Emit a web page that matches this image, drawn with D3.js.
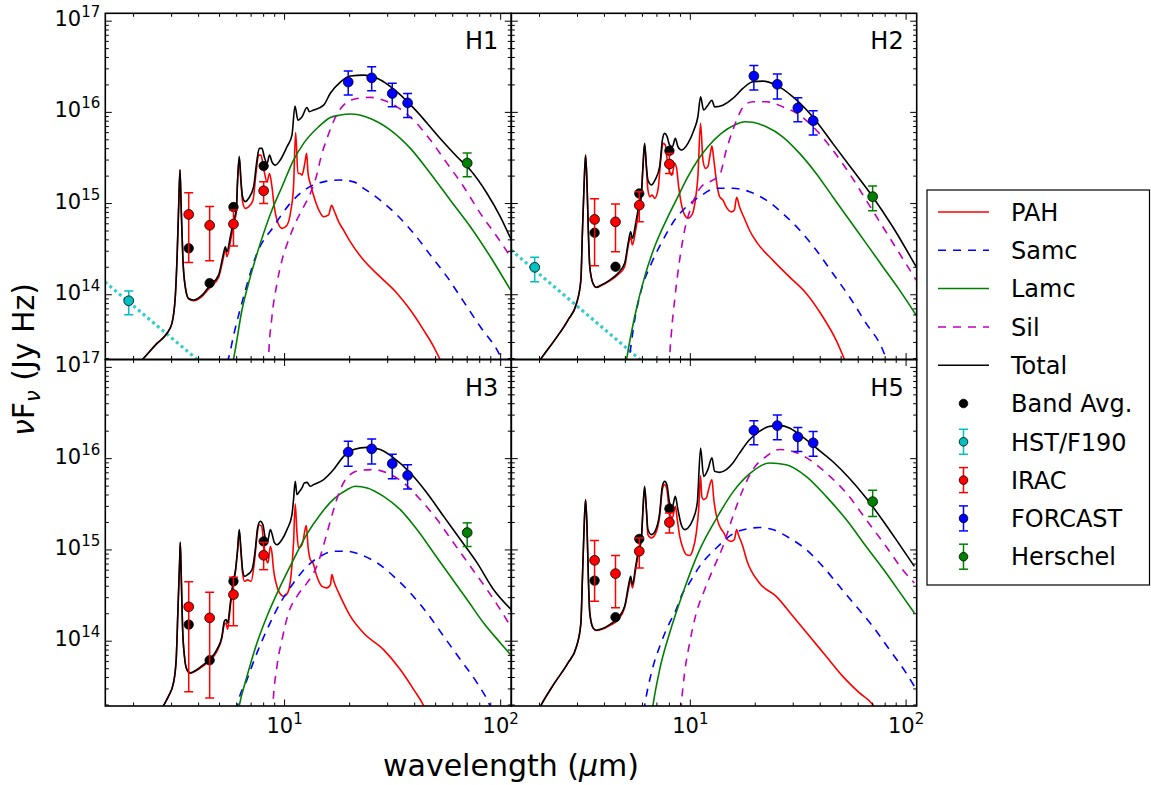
<!DOCTYPE html>
<html>
<head>
<meta charset="utf-8">
<script src="https://cdn.jsdelivr.net/npm/d3@7"></script>
<style>
  body { margin: 0; background: #fff; }
  text { font-family: "DejaVu Sans", sans-serif; fill: #000; }
</style>
</head>
<body>
<svg id="fig" width="1151" height="785"></svg>
<script>
// ---------------------------------------------------------------------------
// SED fits for four regions (H1, H2, H3, H5).  Wavelength in micron, nuFnu in Jy Hz.
// Error-bar points are [wavelength, value, lower end, upper end].
// ---------------------------------------------------------------------------

// ---- H1 ----
const h1Pah = [[2.10,1.74e13],[2.225,2.01e13],[2.566,2.93e13],[2.855,3.78e13],[3.01,4.85e13],[3.12,9.5e13],[3.177,2.40e14],[3.231,8.5e14],[3.28,2.35e15],[3.325,8.5e14],[3.385,2.40e14],[3.47,1.22e14],[3.595,9.0e13],[3.79,8.6e13],[4.15,9.6e13],[4.53,1.22e14],[4.95,1.55e14],[5.22,2.61e14],[5.32,3.23e14],[5.41,2.61e14],[5.61,3.81e14],[5.81,5.8e14],[5.975,8.1e14],[6.06,1.75e15],[6.17,3.15e15],[6.28,1.75e15],[6.39,1.05e15],[6.58,8.85e14],[6.81,9.2e14],[7.14,1.09e15],[7.40,2.33e15],[7.58,3.40e15],[7.77,3.40e15],[8.0,2.43e15],[8.29,1.73e15],[8.52,2.14e15],[8.74,1.53e15],[8.96,9.2e14],[9.22,6.6e14],[9.73,5.35e14],[10.26,5.8e14],[10.7,8.5e14],[11.0,1.53e15],[11.25,6.0e15],[11.53,2.14e15],[11.8,2.14e15],[12.04,2.05e15],[12.4,2.76e15],[12.65,3.55e15],[12.84,2.14e15],[13.15,1.66e15],[13.6,1.24e15],[14.4,8.5e14],[15.16,7.16e14],[15.97,7.5e14],[16.5,9.6e14],[16.9,8.5e14],[17.8,6.3e14],[18.76,5.1e14],[20.15,3.8e14],[23.2,2.40e14],[27.7,1.57e14],[33.1,1.04e14],[38.2,6.8e13],[44.0,4.1e13],[49.0,2.69e13],[52.6,1.92e13],[56.1,1.38e13]];
const h1Samc = [[5.4,1.8e13],[5.5,2.01e13],[5.81,3.6e13],[6.46,9.5e13],[7.45,2.85e14],[8.89,5.57e14],[10.6,1.0e15],[12.7,1.47e15],[15.16,1.73e15],[18.1,1.81e15],[20.9,1.73e15],[23.2,1.47e15],[27.7,1.09e15],[33.1,7.5e14],[39.6,4.71e14],[47.3,2.72e14],[56.5,1.57e14],[67.4,8.4e13],[80.5,4.46e13],[96.2,2.48e13],[102.9,1.82e13]];
const h1Lamc = [[5.75,1.8e13],[5.81,2.01e13],[6.35,6.8e13],[6.94,1.57e14],[7.72,3.66e14],[8.74,8.5e14],[9.73,1.53e15],[11.0,3.0e15],[12.25,4.57e15],[14.37,6.95e15],[16.28,8.77e15],[18.1,9.34e15],[20.15,9.58e15],[24.9,8.59e15],[30.9,6.4e15],[38.2,4.03e15],[47.3,2.14e15],[58.5,1.09e15],[72.4,5.57e14],[89.6,2.61e14],[111,1.13e14]];
const h1Sil = [[8.4,1.6e13],[8.43,2.0e13],[8.74,5.74e13],[9.22,1.33e14],[9.73,2.40e14],[10.43,3.98e14],[11.2,6.07e14],[12.25,9.2e14],[13.15,1.29e15],[13.87,1.81e15],[14.9,3.55e15],[15.72,5.2e15],[16.86,8.0e15],[17.8,1.03e16],[18.76,1.20e16],[21.6,1.42e16],[24.9,1.46e16],[28.7,1.36e16],[33.1,1.15e16],[39.6,8.2e15],[47.3,4.97e15],[56.5,2.76e15],[67.4,1.53e15],[80.5,7.8e14],[96.2,4.33e14],[111,2.61e14]];
const h1Total = [[2.10,1.74e13],[2.225,2.01e13],[2.566,2.93e13],[2.855,3.78e13],[3.01,4.85e13],[3.12,9.5e13],[3.177,2.40e14],[3.231,8.5e14],[3.28,2.35e15],[3.325,8.5e14],[3.385,2.40e14],[3.47,1.22e14],[3.595,9.1e13],[3.79,8.75e13],[4.15,9.9e13],[4.53,1.28e14],[4.95,1.64e14],[5.22,2.85e14],[5.32,3.36e14],[5.41,2.96e14],[5.61,4.33e14],[5.81,6.6e14],[5.975,8.5e14],[6.06,1.81e15],[6.17,3.3e15],[6.28,1.81e15],[6.39,1.19e15],[6.58,1.05e15],[6.81,1.14e15],[7.19,1.53e15],[7.45,3.0e15],[7.64,4.03e15],[7.86,4.03e15],[8.05,3.26e15],[8.29,2.76e15],[8.52,3.40e15],[8.74,2.87e15],[9.06,2.64e15],[9.55,3.0e15],[10.26,4.2e15],[10.82,5.64e15],[11.17,1.17e16],[11.53,8.2e15],[12.04,8.95e15],[12.7,1.13e16],[13.01,1.02e16],[13.62,1.06e16],[15.16,1.20e16],[16.28,1.62e16],[18.11,2.15e16],[20.15,2.50e16],[23.2,2.56e16],[26.8,2.36e16],[33.1,1.68e16],[41.0,1.02e16],[50.8,5.64e15],[62.8,3.26e15],[72.4,2.33e15],[86.5,1.29e15],[99.7,7.16e14],[113,3.81e14]];
const h1Star = [[1.4,1.53e14],[4.5,1.50e13]];
const h1Band = [[3.6,3.23e14],[4.5,1.34e14],[5.8,9.16e14],[8.0,2.58e15]];
const h1Hst = [[1.9,8.59e13,6.03e13,1.10e14]];
const h1Irac = [[3.6,7.6e14,2.26e14,1.31e15],[4.5,5.77e14,2.36e14,9.31e14],[5.8,5.96e14,3.42e14,8.49e14],[8.0,1.38e15,1.0e15,1.73e15]];
const h1Forcast = [[19.7,2.15e16,1.55e16,2.84e16],[25.3,2.39e16,1.73e16,3.16e16],[31.5,1.61e16,1.15e16,2.08e16],[37.1,1.27e16,8.81e15,1.61e16]];
const h1Herschel = [[70,2.78e15,1.97e15,3.58e15]];

// ---- H2 ----
const h2Pah = [[1.96,1.74e13],[2.04,2.01e13],[2.35,3.18e13],[2.71,5.28e13],[2.97,8.06e13],[3.11,1.45e14],[3.16,4.71e14],[3.22,1.66e15],[3.27,3.4e15],[3.32,1.66e15],[3.37,4.71e14],[3.42,2.03e14],[3.54,1.33e14],[3.67,1.2e14],[3.87,1.26e14],[4.23,1.42e14],[4.62,1.66e14],[4.96,2.03e14],[5.18,3.66e14],[5.29,4.33e14],[5.39,3.51e14],[5.58,5.12e14],[5.76,8.1e14],[5.93,1.19e15],[6.03,2.45e15],[6.14,4.4e15],[6.26,2.45e15],[6.36,1.41e15],[6.5,1.19e15],[6.65,1.24e15],[6.83,1.14e15],[7.08,1.41e15],[7.29,3.0e15],[7.47,4.57e15],[7.66,4.38e15],[7.83,2.87e15],[8.02,2.23e15],[8.22,2.05e15],[8.46,2.76e15],[8.64,2.43e15],[8.83,1.53e15],[9.08,1.0e15],[9.41,7.5e14],[9.75,6.9e14],[10.17,7.5e14],[10.55,1.09e15],[10.84,1.97e15],[11.15,7.6e15],[11.44,3.0e15],[11.77,2.43e15],[12.06,2.54e15],[12.38,3.55e15],[12.59,4.27e15],[12.86,3.0e15],[13.19,1.81e15],[13.67,1.19e15],[14.16,1.09e15],[14.67,9.2e14],[15.48,8.1e14],[16.0,8.5e14],[16.4,1.17e15],[16.9,9.2e14],[17.8,6.9e14],[18.8,5.1e14],[20.5,3.66e14],[24.1,2.40e14],[28.8,1.57e14],[34.4,1.04e14],[41.1,5.74e13],[47.4,3.18e13],[51.8,1.96e13],[53.6,1.62e13]];
const h2Samc = [[5.1,1.6e13],[5.18,1.9e13],[5.52,5.28e13],[5.93,1.13e14],[6.6,2.21e14],[7.47,3.98e14],[8.46,6.6e14],[9.58,9.2e14],[11.04,1.19e15],[13.2,1.47e15],[15.75,1.47e15],[18.8,1.35e15],[22.5,1.09e15],[26.8,7.8e14],[32.1,5.12e14],[38.3,3.09e14],[45.7,1.72e14],[54.6,9.5e13],[65.3,4.85e13],[78.0,2.48e13],[81.9,1.82e13]];
const h2Lamc = [[5.0,1.6e13],[5.06,1.92e13],[5.52,5.74e13],[6.14,1.57e14],[6.83,3.36e14],[7.87,7.16e14],[8.76,1.19e15],[9.75,1.97e15],[10.84,3.0e15],[12.06,4.2e15],[13.92,5.89e15],[16.04,7.26e15],[17.84,7.89e15],[19.49,7.78e15],[22.5,6.95e15],[26.8,5.4e15],[32.1,3.55e15],[38.3,2.14e15],[45.7,1.19e15],[54.6,6.6e14],[65.3,3.66e14],[78.0,2.03e14],[93.1,1.13e14],[111.3,5.99e13]];
const h2Sil = [[8.0,1.6e13],[8.02,1.92e13],[8.17,3.78e13],[8.46,8.75e13],[8.92,2.40e14],[9.41,5.12e14],[10.1,9.2e14],[11.24,1.53e15],[12.72,1.81e15],[13.67,2.05e15],[14.68,3.86e15],[15.75,6.4e15],[16.91,9.75e15],[17.84,1.20e16],[19.49,1.31e16],[22.5,1.31e16],[26.8,1.15e16],[32.1,9.34e15],[38.3,6.4e15],[45.7,3.86e15],[54.6,2.14e15],[65.3,1.09e15],[78.0,5.57e14],[93.1,2.85e14],[111.3,1.45e14]];
const h2Total = [[1.96,1.74e13],[2.04,2.01e13],[2.35,3.18e13],[2.71,5.28e13],[2.97,8.06e13],[3.11,1.45e14],[3.16,4.71e14],[3.22,1.66e15],[3.27,3.4e15],[3.32,1.66e15],[3.37,4.71e14],[3.42,2.03e14],[3.54,1.33e14],[3.67,1.21e14],[3.87,1.28e14],[4.23,1.45e14],[4.62,1.72e14],[4.96,2.21e14],[5.18,3.98e14],[5.29,4.91e14],[5.39,4.15e14],[5.58,6.07e14],[5.76,9.2e14],[5.93,1.29e15],[6.03,2.54e15],[6.14,4.57e15],[6.26,2.54e15],[6.36,1.81e15],[6.6,1.60e15],[6.86,1.81e15],[7.21,2.54e15],[7.42,4.97e15],[7.6,5.89e15],[7.79,5.5e15],[8.02,4.38e15],[8.26,4.2e15],[8.52,5.19e15],[8.76,4.2e15],[9.08,3.86e15],[9.75,4.57e15],[10.39,6.4e15],[10.84,8.95e15],[11.16,1.48e16],[11.52,1.06e16],[12.06,1.20e16],[12.59,1.36e16],[12.96,1.15e16],[14.16,1.20e16],[15.75,1.42e16],[17.52,1.83e16],[19.49,2.17e16],[21.7,2.2e16],[25.0,1.99e16],[29.9,1.48e16],[36.9,8.95e15],[45.7,4.57e15],[56.6,2.33e15],[70.0,1.19e15],[86.7,5.57e14],[111.3,2.03e14]];
const h2Star = [[1.4,3.44e14],[6.0,1.85e13]];
const h2Band = [[3.6,4.79e14],[4.5,2.03e14],[5.8,1.29e15],[8.0,3.79e15]];
const h2Hst = [[1.9,2.0e14,1.39e14,2.57e14]];
const h2Irac = [[3.6,6.7e14,2.08e14,1.13e15],[4.5,6.3e14,2.96e14,9.86e14],[5.8,9.6e14,6.31e14,1.35e15],[8.0,2.71e15,2.14e15,3.55e15]];
const h2Forcast = [[19.7,2.50e16,1.76e16,3.27e16],[25.3,2.03e16,1.40e16,2.63e16],[31.5,1.12e16,7.89e15,1.45e16],[37.1,8.1e15,5.64e15,1.04e16]];
const h2Herschel = [[70,1.19e15,8.34e14,1.56e15]];

// ---- H3 ----
const h3Pah = [[2.66,1.69e13],[2.75,1.97e13],[2.90,2.49e13],[3.06,3.49e13],[3.15,6.28e13],[3.21,2.22e14],[3.27,7.84e14],[3.29,1.21e15],[3.325,5.14e14],[3.37,1.46e14],[3.44,6.84e13],[3.53,4.89e13],[3.66,4.45e13],[3.93,4.8e13],[4.22,5.4e13],[4.53,6.2e13],[4.86,7.74e13],[5.13,1.09e14],[5.26,1.52e14],[5.36,1.58e14],[5.45,1.35e14],[5.61,2.41e14],[5.77,3.99e14],[5.93,5.84e14],[6.06,9.8e14],[6.17,1.6e15],[6.28,9.5e14],[6.39,5.6e14],[6.53,4.53e14],[6.74,4.7e14],[7.0,4.53e14],[7.24,7.21e14],[7.45,1.41e15],[7.6,1.89e15],[7.83,1.82e15],[8.0,1.19e15],[8.23,7.84e14],[8.38,7.21e14],[8.59,1.09e15],[8.74,9.27e14],[8.89,6.08e14],[9.12,4.35e14],[9.48,3.38e14],[9.9,3.1e14],[10.33,3.38e14],[10.7,5.14e14],[11.0,1.19e15],[11.2,3.2e15],[11.41,1.54e15],[11.6,1.05e15],[11.9,1.09e15],[12.17,1.24e15],[12.39,1.6e15],[12.6,1.85e15],[12.84,1.09e15],[13.15,7.84e14],[13.53,7.21e14],[14.1,5.14e14],[14.9,3.99e14],[15.7,3.84e14],[16.3,4.17e14],[16.55,5.36e14],[16.9,4.53e14],[17.8,3.38e14],[18.76,2.6e14],[20.15,1.88e14],[23.2,1.23e14],[28.7,8.09e13],[34.3,4.89e13],[39.6,2.95e13],[44.0,1.97e13],[45.6,1.64e13]];
const h3Samc = [[6.0,1.7e13],[6.06,1.97e13],[6.7,3.79e13],[7.45,7.45e13],[8.29,1.34e14],[9.55,2.62e14],[11.0,4.35e14],[12.7,6.61e14],[14.63,8.51e14],[16.86,9.66e14],[19.45,9.66e14],[22.4,8.89e14],[26.8,7.21e14],[31.96,5.14e14],[38.2,3.38e14],[45.6,2.04e14],[54.5,1.13e14],[65.1,6.28e13],[77.8,3.49e13],[88.0,2.11e13],[91.5,1.69e13]];
const h3Lamc = [[6.1,1.7e13],[6.17,1.97e13],[6.7,4.13e13],[7.45,9.57e13],[8.29,1.88e14],[9.55,3.99e14],[11.0,7.84e14],[12.7,1.5e15],[14.63,2.45e15],[16.86,3.6e15],[19.45,4.57e15],[21.25,4.98e15],[24.1,4.78e15],[28.7,3.86e15],[34.3,2.76e15],[41.0,1.67e15],[49.0,9.27e14],[58.5,5.14e14],[69.9,2.86e14],[83.4,1.58e14],[99.7,9.57e13],[111,7.13e13]];
const h3Sil = [[8.79,1.6e13],[8.83,1.97e13],[9.22,5.31e13],[9.73,1.04e14],[10.43,2.04e14],[11.41,3.1e14],[12.7,4.35e14],[13.87,6.08e14],[14.63,8.51e14],[15.72,1.54e15],[16.86,2.76e15],[18.1,4.57e15],[19.45,6.2e15],[22.4,7.45e15],[25.8,7.59e15],[29.8,6.97e15],[35.6,5.42e15],[42.5,3.56e15],[50.8,2.15e15],[60.6,1.19e15],[72.4,6.61e14],[86.5,3.67e14],[99.7,2.22e14],[111,1.46e14]];
const h3Total = [[2.66,1.69e13],[2.75,1.97e13],[2.90,2.49e13],[3.06,3.49e13],[3.15,6.28e13],[3.21,2.22e14],[3.27,7.84e14],[3.29,1.21e15],[3.325,5.14e14],[3.37,1.46e14],[3.44,6.84e13],[3.53,4.89e13],[3.66,4.5e13],[3.93,4.89e13],[4.22,5.55e13],[4.53,6.39e13],[4.86,8.09e13],[5.13,1.13e14],[5.26,1.65e14],[5.36,1.73e14],[5.45,1.58e14],[5.61,2.62e14],[5.77,4.35e14],[5.93,6.08e14],[6.06,1.01e15],[6.17,1.67e15],[6.28,1.01e15],[6.39,6.08e14],[6.53,5.14e14],[6.74,5.36e14],[7.07,6.08e14],[7.32,1.01e15],[7.5,1.74e15],[7.72,2.06e15],[7.94,1.89e15],[8.14,1.35e15],[8.34,1.24e15],[8.59,1.67e15],[8.77,1.47e15],[8.96,1.21e15],[9.22,1.14e15],[9.73,1.30e15],[10.26,1.67e15],[10.82,2.44e15],[11.0,3.56e15],[11.2,5.64e15],[11.41,4.04e15],[11.73,4.39e15],[12.04,4.78e15],[12.34,5.42e15],[12.7,5.5e15],[13.15,4.98e15],[13.62,5.19e15],[15.16,5.89e15],[16.86,7.59e15],[18.76,1.06e16],[20.87,1.26e16],[24.1,1.33e16],[27.7,1.26e16],[31.96,1.02e16],[38.2,6.97e15],[45.6,4.21e15],[54.5,2.33e15],[65.1,1.30e15],[77.8,7.21e14],[92.8,3.67e14],[112,2.22e14]];
const h3Band = [[3.6,1.52e14],[4.5,6.18e13],[5.8,4.53e14],[8.0,1.24e15]];
const h3Irac = [[3.6,2.38e14,2.79e13,4.47e14],[4.5,1.80e14,2.39e13,3.44e14],[5.8,3.24e14,1.48e14,5.01e14],[8.0,8.73e14,6.08e14,1.21e15]];
const h3Forcast = [[19.7,1.18e16,8.24e15,1.55e16],[25.3,1.28e16,8.75e15,1.64e16],[31.5,8.82e15,6.04e15,1.12e16],[37.1,6.56e15,4.66e15,8.59e15]];
const h3Herschel = [[70,1.55e15,1.09e15,1.98e15]];

// ---- H5 ----
const h5Pah = [[2.0,1.85e13],[2.04,2.02e13],[2.35,3.49e13],[2.71,5.78e13],[2.97,8.79e13],[3.11,1.58e14],[3.16,4.73e14],[3.22,1.81e15],[3.27,3.56e15],[3.32,1.81e15],[3.37,4.73e14],[3.42,2.04e14],[3.54,1.4e14],[3.67,1.31e14],[3.87,1.34e14],[4.23,1.48e14],[4.62,1.72e14],[4.96,2.32e14],[5.18,3.84e14],[5.29,4.73e14],[5.39,3.84e14],[5.58,6.08e14],[5.76,9.27e14],[5.93,1.3e15],[6.03,2.65e15],[6.14,4.8e15],[6.26,2.65e15],[6.36,1.47e15],[6.6,1.35e15],[6.86,1.47e15],[7.21,2.33e15],[7.42,4.57e15],[7.6,5.19e15],[7.79,4.57e15],[8.02,2.54e15],[8.26,2.24e15],[8.52,3.0e15],[8.7,2.15e15],[8.93,1.41e15],[9.24,1.05e15],[9.58,8.89e14],[9.93,8.7e14],[10.28,1.01e15],[10.66,1.54e15],[10.93,2.76e15],[11.15,6.5e15],[11.3,3.86e15],[11.52,3.56e15],[11.86,3.7e15],[12.15,4.57e15],[12.59,5.89e15],[12.86,3.5e15],[13.05,2.76e15],[13.34,2.15e15],[13.8,1.74e15],[14.3,1.54e15],[14.83,1.3e15],[15.48,1.24e15],[16.0,1.3e15],[16.4,1.67e15],[16.7,1.47e15],[17.5,1.1e15],[18.3,7.6e14],[20.9,4.35e14],[25.0,3.1e14],[29.9,1.88e14],[35.7,1.13e14],[42.6,6.84e13],[50.9,4.12e13],[60.8,2.71e13],[70.0,2.02e13],[73.6,1.65e13]];
const h5Samc = [[6.08,1.7e13],[6.14,1.97e13],[6.6,4.5e13],[7.27,9.2e13],[8.02,1.6e14],[8.46,2.04e14],[9.24,3.4e14],[9.75,4.1e14],[11.04,6.6e14],[13.2,1.05e15],[15.75,1.5e15],[18.8,1.72e15],[20.9,1.76e15],[24.1,1.67e15],[28.8,1.35e15],[34.4,1.01e15],[41.1,6.61e14],[49.1,3.99e14],[58.7,2.41e14],[70.0,1.46e14],[83.7,8.09e13],[100,4.5e13],[109.2,3.21e13]];
const h5Lamc = [[6.65,1.7e13],[6.71,1.97e13],[7.21,4.89e13],[8.02,1.23e14],[9.24,3.38e14],[11.04,1.0e15],[13.2,2.2e15],[15.75,4.3e15],[18.8,6.8e15],[23.3,8.97e15],[27.8,8.59e15],[34.4,6.4e15],[42.6,3.86e15],[52.8,2.15e15],[65.3,1.09e15],[80.8,5.6e14],[96.4,3.1e14],[109.2,2.04e14]];
const h5Sil = [[9.04,1.7e13],[9.08,1.97e13],[9.41,4.5e13],[9.93,9.57e13],[10.66,2.04e14],[11.65,3.67e14],[12.72,6.08e14],[14.16,1.09e15],[15.75,2.33e15],[17.52,4.57e15],[19.49,7.59e15],[22.5,1.06e16],[25.9,1.26e16],[29.9,1.20e16],[35.7,9.75e15],[42.6,6.97e15],[52.8,4.21e15],[65.3,2.15e15],[80.8,1.09e15],[96.4,6.08e14],[109.2,4.35e14]];
const h5Total = [[2.0,1.85e13],[2.04,2.02e13],[2.35,3.49e13],[2.71,5.78e13],[2.97,8.79e13],[3.11,1.58e14],[3.16,4.73e14],[3.22,1.81e15],[3.27,3.56e15],[3.32,1.81e15],[3.37,4.73e14],[3.42,2.04e14],[3.54,1.4e14],[3.67,1.32e14],[3.87,1.36e14],[4.23,1.52e14],[4.62,1.8e14],[4.96,2.41e14],[5.18,4.17e14],[5.29,5.14e14],[5.39,4.17e14],[5.58,6.61e14],[5.76,1.01e15],[5.93,1.35e15],[6.03,2.76e15],[6.14,4.98e15],[6.26,2.76e15],[6.36,1.67e15],[6.6,1.47e15],[6.86,1.6e15],[7.21,2.54e15],[7.42,4.98e15],[7.6,5.64e15],[7.79,5.19e15],[8.02,3.27e15],[8.26,3.0e15],[8.52,3.86e15],[8.76,2.76e15],[9.08,1.89e15],[9.41,1.67e15],[9.75,1.74e15],[10.28,2.15e15],[10.77,3.27e15],[11.16,1.31e16],[11.52,6.4e15],[12.06,7.59e15],[12.59,1.02e16],[12.96,7.26e15],[13.67,7.08e15],[14.68,7.59e15],[15.75,8.97e15],[16.91,1.15e16],[18.8,1.61e16],[20.9,1.99e16],[23.3,2.26e16],[25.9,2.30e16],[28.8,2.17e16],[32.1,1.83e16],[38.3,1.31e16],[45.7,9.3e15],[54.6,6.1e15],[65.3,3.7e15],[78,2.1e15],[93.1,1.15e15],[109.2,6.61e14]];
const h5Band = [[3.6,4.61e14],[4.5,1.83e14],[5.8,1.32e15],[8.0,2.83e15]];
const h5Irac = [[3.6,7.69e14,2.74e14,1.27e15],[4.5,5.5e14,2.32e14,8.67e14],[5.8,9.66e14,6.35e14,1.35e15],[8.0,2.0e15,1.53e15,2.54e15]];
const h5Forcast = [[19.7,2.04e16,1.42e16,2.61e16],[25.3,2.30e16,1.61e16,3.01e16],[31.5,1.73e16,1.20e16,2.20e16],[37.1,1.49e16,1.06e16,1.99e16]];
const h5Herschel = [[70,3.38e15,2.33e15,4.50e15]];

// Axis tick positions
const xMajorTicks = [10, 100];
const xMinorTicks = [2,3,4,5,6,7,8,9,20,30,40,50,60,70,80,90];
const yMajorTicks = [1e14, 1e15, 1e16, 1e17];
const yMinorTicks = [2e13,3e13,4e13,5e13,6e13,7e13,8e13,9e13,2e14,3e14,4e14,5e14,6e14,7e14,8e14,9e14,2e15,3e15,4e15,5e15,6e15,7e15,8e15,9e15,2e16,3e16,4e16,5e16,6e16,7e16,8e16,9e16];

// Legend entries
const legendLines = [
  {label: "PAH",   color: "#ff0000", dash: null},
  {label: "Samc",  color: "#0000ff", dash: "8,7"},
  {label: "Lamc",  color: "#008000", dash: null},
  {label: "Sil",   color: "#bf00bf", dash: "8,7"},
  {label: "Total", color: "#000000", dash: null}
];
const legendPoints = [
  {label: "Band Avg.", color: "#000000", bar: false},
  {label: "HST/F190",  color: "#00bfbf", bar: true},
  {label: "IRAC",      color: "#ff0000", bar: true},
  {label: "FORCAST",   color: "#0000ff", bar: true},
  {label: "Herschel",  color: "#008000", bar: true}
];

// ---------------------------------------------------------------------------
const svg = d3.select("#fig");
svg.append("rect").attr("width", 1151).attr("height", 785).attr("fill", "#fff");

const colX = [[105.3, 511.3], [511.3, 916.7]];
const rowY = [[13.3, 359.5], [359.5, 706]];
const xDomain = [1.48, 112];
const yDomain = [1.95e13, 1.22e17];

const panels = [
  {name: "H1", col: 0, row: 0, pah: h1Pah, samc: h1Samc, lamc: h1Lamc, sil: h1Sil, total: h1Total, star: h1Star, band: h1Band, hst: h1Hst, irac: h1Irac, forcast: h1Forcast, herschel: h1Herschel},
  {name: "H2", col: 1, row: 0, pah: h2Pah, samc: h2Samc, lamc: h2Lamc, sil: h2Sil, total: h2Total, star: h2Star, band: h2Band, hst: h2Hst, irac: h2Irac, forcast: h2Forcast, herschel: h2Herschel},
  {name: "H3", col: 0, row: 1, pah: h3Pah, samc: h3Samc, lamc: h3Lamc, sil: h3Sil, total: h3Total, star: null, band: h3Band, hst: null, irac: h3Irac, forcast: h3Forcast, herschel: h3Herschel},
  {name: "H5", col: 1, row: 1, pah: h5Pah, samc: h5Samc, lamc: h5Lamc, sil: h5Sil, total: h5Total, star: null, band: h5Band, hst: null, irac: h5Irac, forcast: h5Forcast, herschel: h5Herschel}
];

const TICK_FS = 21, SUP_FS = 15, SUP_RAISE = 9;
const defs = svg.append("defs");

function powerLabel(sel, exponent) {
  sel.append("tspan").text("10");
  sel.append("tspan").attr("font-size", SUP_FS).attr("dy", -SUP_RAISE).text(exponent);
}

panels.forEach((p, i) => {
  const [x0, x1] = colX[p.col];
  const [y0, y1] = rowY[p.row];
  const x = d3.scaleLog().domain(xDomain).range([x0, x1]);
  const y = d3.scaleLog().domain(yDomain).range([y1, y0]);

  const clipId = "clip" + i;
  defs.append("clipPath").attr("id", clipId)
    .append("rect").attr("x", x0).attr("y", y0).attr("width", x1 - x0).attr("height", y1 - y0);

  const g = svg.append("g");
  const plot = g.append("g").attr("clip-path", `url(#${clipId})`);

  const smooth = d3.line().x(d => x(d[0])).y(d => y(d[1])).curve(d3.curveMonotoneX);
  const straight = d3.line().x(d => x(d[0])).y(d => y(d[1]));

  // stellar continuum
  if (p.star) {
    plot.append("path").attr("d", straight(p.star))
      .attr("fill", "none").attr("stroke", "#00bfbf").attr("stroke-width", 3.2)
      .attr("stroke-dasharray", "3,3.2").attr("opacity", 0.8);
  }

  const curves = [
    {data: p.pah,   color: "#ff0000", dash: null},
    {data: p.samc,  color: "#0000ff", dash: "8,7"},
    {data: p.lamc,  color: "#008000", dash: null},
    {data: p.sil,   color: "#bf00bf", dash: "8,7"},
    {data: p.total, color: "#000000", dash: null}
  ];
  curves.forEach(c => {
    plot.append("path").attr("d", smooth(c.data))
      .attr("fill", "none").attr("stroke", c.color).attr("stroke-width", 1.6)
      .attr("stroke-dasharray", c.dash).attr("stroke-linejoin", "round");
  });

  // band averages
  plot.selectAll(null).data(p.band).enter().append("circle")
    .attr("cx", d => x(d[0])).attr("cy", d => y(d[1])).attr("r", 4.7)
    .attr("fill", "#000").attr("stroke", "#000").attr("stroke-width", 0.8);

  // photometry with error bars
  const errorSets = [
    {data: p.hst, color: "#00bfbf"},
    {data: p.irac, color: "#ff0000"},
    {data: p.forcast, color: "#0000ff"},
    {data: p.herschel, color: "#008000"}
  ];
  errorSets.forEach(s => {
    if (!s.data) return;
    s.data.forEach(d => {
      const cx = x(d[0]);
      plot.append("line").attr("x1", cx).attr("x2", cx).attr("y1", y(d[2])).attr("y2", y(d[3]))
        .attr("stroke", s.color).attr("stroke-width", 1.5);
      [d[2], d[3]].forEach(v => {
        plot.append("line").attr("x1", cx - 4.5).attr("x2", cx + 4.5).attr("y1", y(v)).attr("y2", y(v))
          .attr("stroke", s.color).attr("stroke-width", 1.5);
      });
      plot.append("circle").attr("cx", cx).attr("cy", y(d[1])).attr("r", 4.9)
        .attr("fill", s.color).attr("stroke", "#000").attr("stroke-width", 0.8);
    });
  });

  // ticks, pointing inward on all four sides
  const tickG = g.append("g").attr("stroke", "#000").attr("stroke-width", 1);
  const addXTicks = (vals, len) => vals.forEach(v => {
    const px = x(v);
    tickG.append("line").attr("x1", px).attr("x2", px).attr("y1", y1).attr("y2", y1 - len);
    tickG.append("line").attr("x1", px).attr("x2", px).attr("y1", y0).attr("y2", y0 + len);
  });
  const addYTicks = (vals, len) => vals.forEach(v => {
    const py = y(v);
    tickG.append("line").attr("x1", x0).attr("x2", x0 + len).attr("y1", py).attr("y2", py);
    tickG.append("line").attr("x1", x1).attr("x2", x1 - len).attr("y1", py).attr("y2", py);
  });
  addXTicks(xMajorTicks, 6.5);
  addXTicks(xMinorTicks, 3.5);
  addYTicks(yMajorTicks, 6.5);
  addYTicks(yMinorTicks, 3.5);

  // frame
  g.append("rect").attr("x", x0).attr("y", y0).attr("width", x1 - x0).attr("height", y1 - y0)
    .attr("fill", "none").attr("stroke", "#000").attr("stroke-width", 1.6);

  // tick labels
  if (p.col === 0) {
    yMajorTicks.forEach(v => {
      const t = g.append("text").attr("x", x0 - 5).attr("y", y(v) + 5)
        .attr("text-anchor", "end").attr("font-size", TICK_FS);
      powerLabel(t, Math.round(Math.log10(v)));
    });
  }
  if (p.row === 1) {
    xMajorTicks.forEach(v => {
      const t = g.append("text").attr("x", x(v)).attr("y", y1 + 27)
        .attr("text-anchor", "middle").attr("font-size", TICK_FS);
      powerLabel(t, Math.round(Math.log10(v)));
    });
  }

  // panel name
  g.append("text").attr("x", x1 - 13).attr("y", y0 + 36)
    .attr("text-anchor", "end").attr("font-size", 24).text(p.name);
});

// axis titles
const xt = svg.append("text").attr("x", 511).attr("y", 776).attr("text-anchor", "middle").attr("font-size", 30);
xt.append("tspan").text("wavelength (");
xt.append("tspan").attr("font-style", "italic").text("\u03bc");
xt.append("tspan").text("m)");

const yt = svg.append("text").attr("transform", "translate(33.5,359.5) rotate(-90)")
  .attr("text-anchor", "middle").attr("font-size", 30);
yt.append("tspan").attr("font-style", "italic").text("\u03bd");
yt.append("tspan").text("F");
yt.append("tspan").attr("font-style", "italic").attr("font-size", 21).attr("dy", 6).text("\u03bd");
yt.append("tspan").attr("dy", -6).text(" (Jy Hz)");

// legend
const lg = svg.append("g");
lg.append("rect").attr("x", 927).attr("y", 190).attr("width", 222.5).attr("height", 395)
  .attr("fill", "#fff").attr("stroke", "#000").attr("stroke-width", 1.2);
const rowStep = 38.3, firstRow = 212;
legendLines.forEach((e, i) => {
  const cy = firstRow + i * rowStep;
  lg.append("line").attr("x1", 938).attr("x2", 989).attr("y1", cy).attr("y2", cy)
    .attr("stroke", e.color).attr("stroke-width", 1.5).attr("stroke-dasharray", e.dash);
  lg.append("text").attr("x", 1011).attr("y", cy + 8.7).attr("font-size", 24).text(e.label);
});
legendPoints.forEach((e, j) => {
  const cy = firstRow + (j + legendLines.length) * rowStep;
  const cx = 963.5;
  if (e.bar) {
    lg.append("line").attr("x1", cx).attr("x2", cx).attr("y1", cy - 12.5).attr("y2", cy + 12.5)
      .attr("stroke", e.color).attr("stroke-width", 1.5);
    [cy - 12.5, cy + 12.5].forEach(v => lg.append("line").attr("x1", cx - 4.5).attr("x2", cx + 4.5)
      .attr("y1", v).attr("y2", v).attr("stroke", e.color).attr("stroke-width", 1.5));
  }
  lg.append("circle").attr("cx", cx).attr("cy", cy).attr("r", 4.3)
    .attr("fill", e.color).attr("stroke", "#000").attr("stroke-width", 0.8);
  lg.append("text").attr("x", 1011).attr("y", cy + 8.7).attr("font-size", 24).text(e.label);
});
</script>
</body>
</html>
